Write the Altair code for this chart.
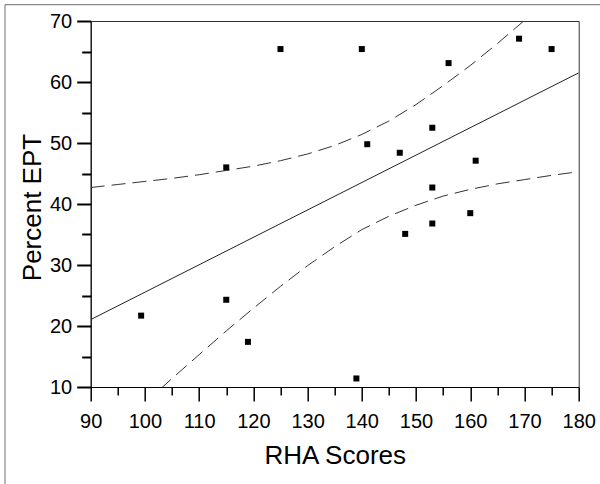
import altair as alt
import pandas as pd

# Data
rha = [99.3, 115, 115, 119, 125, 139, 140, 141, 147, 148, 153, 153, 153, 156, 160, 161, 169, 175]
ept = [21.7, 24.3, 46.0, 17.4, 65.4, 11.4, 65.4, 49.8, 48.4, 35.1, 52.5, 42.7, 36.8, 63.1, 38.5, 47.1, 67.1, 65.4]

fit_x = [90, 180]
fit_y = [21.05, 61.5]

upper_x = [90, 95, 100, 105, 110, 115, 120, 125, 130, 135, 140, 145, 150, 155, 160, 165, 170]
upper_y = [42.7, 43.2, 43.7, 44.2, 44.8, 45.5, 46.2, 47.1, 48.2, 49.6, 51.4, 53.6, 56.3, 59.4, 62.7, 66.3, 70.1]
lower_x = [100, 105, 110, 115, 120, 125, 130, 135, 140, 145, 150, 155, 160, 165, 170, 175, 180]
lower_y = [7.4, 11.4, 15.3, 19.2, 22.9, 26.5, 29.9, 33.0, 35.8, 38.0, 39.8, 41.3, 42.4, 43.3, 44.0, 44.7, 45.3]

x_major = [90, 100, 110, 120, 130, 140, 150, 160, 170, 180]
x_minor = [95, 105, 115, 125, 135, 145, 155, 165, 175]
y_major = [10, 20, 30, 40, 50, 60, 70]
y_minor = [15, 25, 35, 45, 55, 65]

xs = alt.Scale(domain=[90, 180], nice=False, zero=False)
ys = alt.Scale(domain=[10, 70], nice=False, zero=False)

pts_df = pd.DataFrame({"RHA": rha, "EPT": ept})
fit_df = pd.DataFrame({"RHA": fit_x, "EPT": fit_y})
up_df = pd.DataFrame({"RHA": upper_x, "EPT": upper_y})
lo_df = pd.DataFrame({"RHA": lower_x, "EPT": lower_y})
frame_df = pd.DataFrame({"k": [0]})

FONT = "Liberation Sans"

# outer scanned frame (decoration)
frame_left = alt.Chart(frame_df).mark_rule(color="#888", strokeWidth=1.2).encode(
    x=alt.value(-85.7), y=alt.value(-16.3), y2=alt.value(463)
)
frame_top = alt.Chart(frame_df).mark_rule(color="#888", strokeWidth=1.2).encode(
    x=alt.value(-85.7), x2=alt.value(509.3), y=alt.value(-16.3)
)

upper = alt.Chart(up_df).mark_line(color="#333", strokeWidth=1, strokeDash=[14, 7], clip=True).encode(
    x=alt.X("RHA:Q", scale=xs, axis=None),
    y=alt.Y("EPT:Q", scale=ys, axis=None),
)
lower = alt.Chart(lo_df).mark_line(color="#333", strokeWidth=1, strokeDash=[14, 7], clip=True).encode(
    x=alt.X("RHA:Q", scale=xs, axis=None),
    y=alt.Y("EPT:Q", scale=ys, axis=None),
)

fit = alt.Chart(fit_df).mark_line(color="#222", strokeWidth=1, clip=True).encode(
    x=alt.X("RHA:Q", scale=xs, axis=alt.Axis(orient="bottom", values=x_minor, labels=False, domain=False,
                                              title=None, tickSize=8, tickWidth=1.5, tickColor="black",
                                              grid=False)),
    y=alt.Y("EPT:Q", scale=ys, axis=alt.Axis(orient="left", values=y_minor, labels=False, domain=False,
                                              title=None, tickSize=9, tickWidth=2, tickColor="black",
                                              grid=False)),
)

points = alt.Chart(pts_df).mark_point(shape="square", filled=True, size=36, color="black", opacity=1).encode(
    x=alt.X("RHA:Q", scale=xs, axis=alt.Axis(orient="bottom", values=x_major, title="RHA Scores",
                                              tickSize=14, tickWidth=1.5, tickColor="black",
                                              domainColor="black", grid=False,
                                              labelFont=FONT, labelFontSize=20, labelColor="black",
                                              labelPadding=10, labelFlush=False, labelOverlap=False,
                                              titleFont=FONT, titleFontSize=26, titleFontWeight="normal",
                                              titleColor="black",
                                              titleY=76, titleBaseline="alphabetic")),
    y=alt.Y("EPT:Q", scale=ys, axis=alt.Axis(orient="left", values=y_major, title="Percent EPT",
                                              tickSize=14, tickWidth=2, tickColor="black",
                                              domainColor="black", grid=False,
                                              labelFont=FONT, labelFontSize=20, labelColor="black",
                                              labelPadding=5, labelFlush=False, labelOverlap=False,
                                              titleFont=FONT, titleFontSize=26, titleFontWeight="normal",
                                              titleColor="black",
                                              titleX=-50, titleY=186, titleBaseline="alphabetic",
                                              titleAlign="center")),
)

chart = alt.layer(frame_left, frame_top, upper, lower, fit, points).resolve_axis(
    x="independent", y="independent"
).properties(
    width=488,
    height=366,
    autosize=alt.AutoSizeParams(type="none"),
    padding={"left": 90.7, "top": 21, "right": 21.3, "bottom": 97},
    background="white",
).configure_view(
    stroke="#333", strokeWidth=1
)

chart.save("out.html", embed_options={"renderer": "svg", "actions": False})
